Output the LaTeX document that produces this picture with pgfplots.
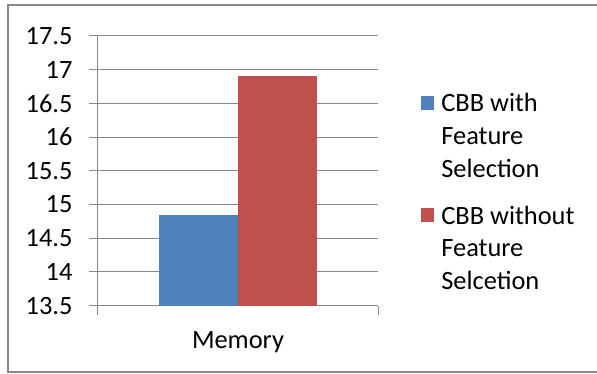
\documentclass[border=0pt]{standalone}
\usepackage{pgfplots}
\pgfplotsset{compat=1.18}
\usepackage{fontspec}
\setmainfont{Carlito}
\definecolor{cbblue}{HTML}{4F81BD}
\definecolor{cbred}{HTML}{C0504D}
\definecolor{gridgray}{HTML}{898989}
\begin{document}
\begin{tikzpicture}[x=1bp,y=1bp]
\path[use as bounding box] (0,0) rectangle (597,373);
\draw[gridgray, line width=2bp] (600,368) -- (8,368) -- (8,1) -- (600,1);
\begin{axis}[
  at={(97.7bp,67.3bp)}, anchor=south west,
  scale only axis, width=280.6bp, height=269.7bp,
  xmin=-0.5, xmax=0.5, ymin=13.5, ymax=17.5,
  ytick={13.5,14,14.5,15,15.5,16,16.5,17,17.5},
  axis x line*=bottom, axis y line*=left,
  axis line style={gridgray, line width=1bp},
  ymajorgrids, grid style={gridgray, line width=1bp},
  tick style={gridgray, line width=1bp},
  major tick length=9bp, tick align=outside,
  xtick={-0.5,0.5}, xticklabels={},
  extra x ticks={0}, extra x tick labels={Memory},
  extra x tick style={major tick length=0pt, xticklabel style={anchor=base, yshift=-42.3bp}},
  tick label style={font=\fontsize{26.5}{30}\selectfont, text=black},
  /pgf/number format/assume math mode=true,
  yticklabel style={anchor=east, inner sep=0pt, xshift=-16bp},
  ybar, bar width=79bp,
  legend style={at={(1.151,0.789)}, anchor=north west, draw=none, fill=none,
    inner sep=0pt, font=\fontsize{26.5}{33}\selectfont,
    nodes={inner sep=0pt, align=left}, row sep=27bp, column sep=7.5bp},
  legend cell align=left,
]
\addplot[fill=cbblue, draw=none, bar shift=-39.5bp,
  legend image code/.code={\fill[cbblue] (0bp,26bp) rectangle (13bp,40bp);}]
  coordinates {(0,14.85)};
\addlegendentry{CBB with\\Feature\\Selection}
\addplot[fill=cbred, draw=none, bar shift=39.5bp,
  legend image code/.code={\fill[cbred] (0bp,26bp) rectangle (13bp,40bp);}]
  coordinates {(0,16.9)};
\addlegendentry{CBB without\\Feature\\Selcetion}
\end{axis}
\end{tikzpicture}
\end{document}
